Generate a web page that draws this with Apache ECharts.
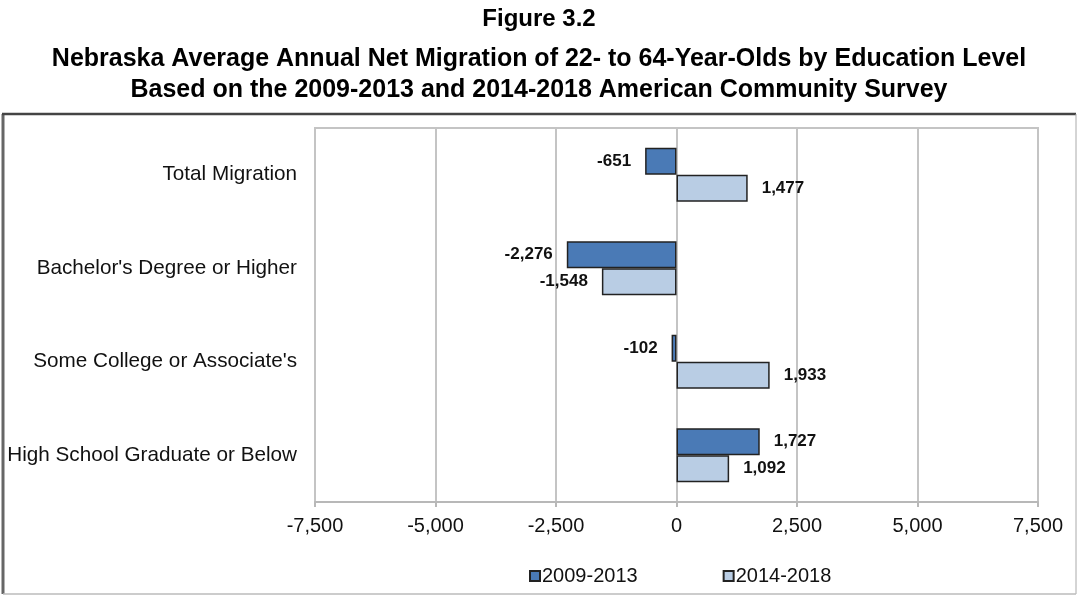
<!DOCTYPE html>
<html>
<head>
<meta charset="utf-8">
<script src="https://cdn.jsdelivr.net/npm/echarts@6/dist/echarts.min.js"></script>
<style>
  html, body { margin: 0; padding: 0; background: #fff; }
  #chart { width: 1078px; height: 595px; }
</style>
</head>
<body>
<div id="chart"></div>
<script>
var categories = ['Total Migration', "Bachelor's Degree or Higher", "Some College or Associate's", 'High School Graduate or Below'];
var seriesNames = ['2009-2013', '2014-2018'];
var values2009 = [-651, -2276, -102, 1727];
var values2014 = [1477, -1548, 1933, 1092];
var colors = ['#4a7ab6', '#b9cde4'];

var font = '"Liberation Sans", Arial, sans-serif';

function makeData(vals) {
  return vals.map(function(v) {
    return {
      value: v,
      label: { position: v < 0 ? 'left' : 'right' }
    };
  });
}

function makeSeries(name, vals, color) {
  return {
    name: name,
    type: 'bar',
    barWidth: 27,
    barGap: '0%',
    data: makeData(vals),
    itemStyle: { color: color, borderColor: '#222', borderWidth: 1.5 },
    label: {
      show: true,
      distance: 14,
      color: '#111',
      fontWeight: 'bold',
      fontSize: 17,
      fontFamily: font,
      formatter: function(p) { return p.value.toLocaleString('en-US'); }
    }
  };
}

var titleStyle = { fontFamily: font, fontWeight: 'bold', fontSize: 25, color: '#000' };

var myChart = echarts.init(document.getElementById('chart'));
var option = {
  animation: false,
  backgroundColor: '#fff',
  title: [{
    text: 'Figure 3.2',
    left: 'center',
    top: 2,
    textStyle: { fontFamily: font, fontWeight: 'bold', fontSize: 24, color: '#000' }
  }, {
    text: 'Nebraska Average Annual Net Migration of 22- to 64-Year-Olds by Education Level',
    left: 'center',
    top: 42,
    textStyle: titleStyle
  }, {
    text: 'Based on the 2009-2013 and 2014-2018 American Community Survey',
    left: 'center',
    top: 73,
    textStyle: titleStyle
  }],
  graphic: [
    { type: 'line', shape: { x1: 3, y1: 114, x2: 3, y2: 594 }, style: { stroke: '#666', lineWidth: 3 } },
    { type: 'line', shape: { x1: 2, y1: 114, x2: 1076, y2: 114 }, style: { stroke: '#444', lineWidth: 2.5 } },
    { type: 'line', shape: { x1: 1076, y1: 114, x2: 1076, y2: 594 }, style: { stroke: '#aaa', lineWidth: 1 } },
    { type: 'line', shape: { x1: 3, y1: 594, x2: 1076, y2: 594 }, style: { stroke: '#bbb', lineWidth: 1.5 } }
  ],
  legend: {
    data: seriesNames,
    left: 524,
    top: 561,
    icon: 'rect',
    itemWidth: 10,
    itemHeight: 10,
    itemGap: 85,
    textStyle: { fontFamily: font, fontSize: 20, color: '#111', padding: [0, 0, 0, -3] }
  },
  grid: {
    left: 315,
    right: 40,
    top: 128,
    bottom: 93,
    show: true,
    borderColor: '#c4c4c4',
    borderWidth: 2
  },
  xAxis: {
    type: 'value',
    min: -7500,
    max: 7500,
    interval: 2500,
    axisLine: { show: true, lineStyle: { color: '#b8b8b8', width: 2 } },
    axisTick: { show: true, length: 5, lineStyle: { color: '#b8b8b8', width: 2 } },
    splitLine: { show: true, lineStyle: { color: '#c4c4c4', width: 2 } },
    axisLabel: {
      margin: 14,
      fontFamily: font,
      fontSize: 20,
      color: '#111',
      formatter: function(v) { return v.toLocaleString('en-US'); }
    }
  },
  yAxis: {
    type: 'category',
    data: categories,
    inverse: true,
    axisLine: { show: false, onZero: false },
    axisTick: { show: false },
    axisLabel: { margin: 18, fontFamily: font, fontSize: 20.7, color: '#111', padding: [0, 0, -6, 0] }
  },
  series: [
    makeSeries(seriesNames[0], values2009, colors[0]),
    makeSeries(seriesNames[1], values2014, colors[1])
  ]
};
myChart.setOption(option);
</script>
</body>
</html>
